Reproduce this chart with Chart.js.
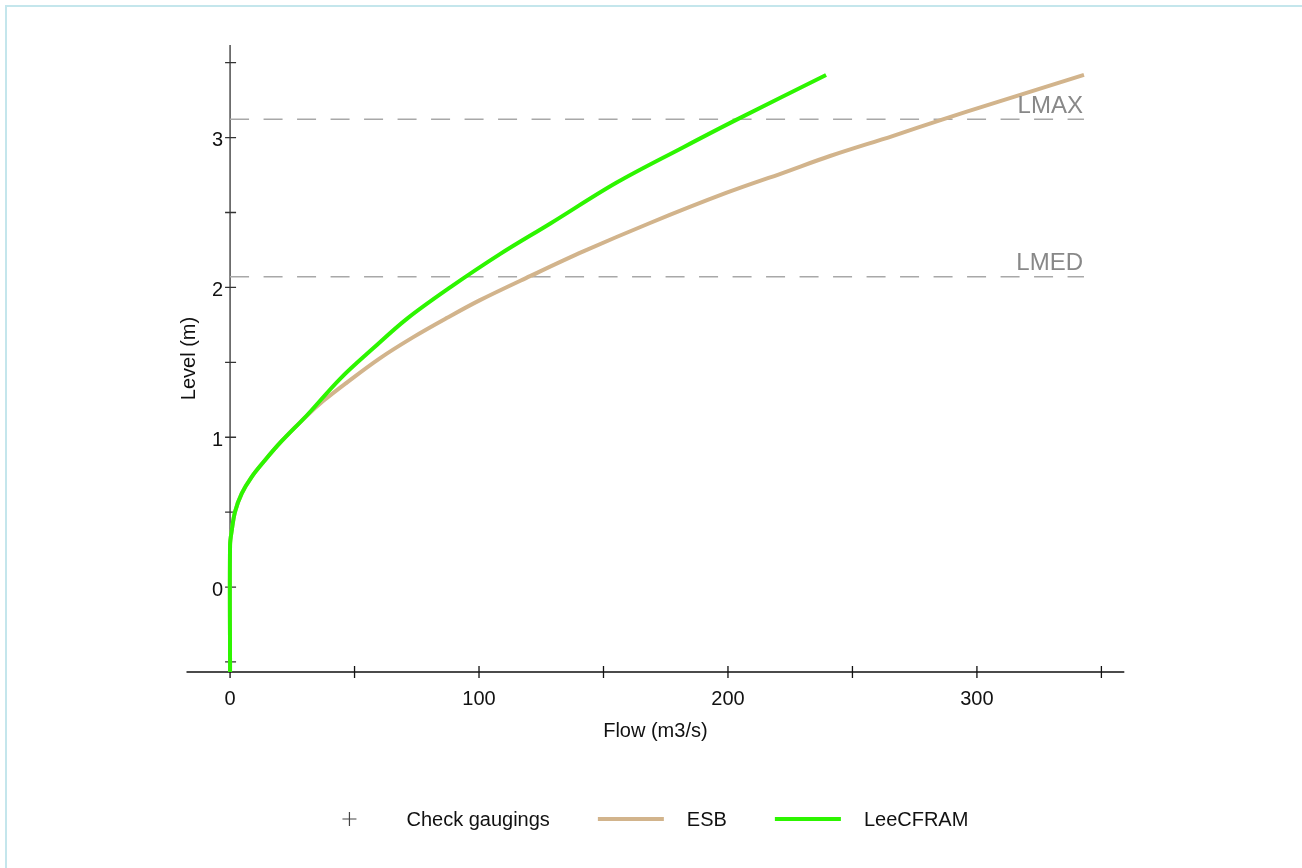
<!DOCTYPE html>
<html>
<head>
<meta charset="utf-8">
<title>Rating curves</title>
<script src="https://cdn.jsdelivr.net/npm/chart.js@4.4.1/dist/chart.umd.min.js"></script>
<style>
    html, body { margin: 0; padding: 0; background: #fff; overflow: hidden; }
    #frame { position: absolute; left: 5px; top: 5px; width: 1400px; height: 1000px; border: 2px solid #c4e6ec; pointer-events: none; }
    #ratingChart { position: absolute; left: 0; top: 0; }
</style>
</head>
<body>
<div id="frame"></div>
<canvas id="ratingChart" width="1302" height="868"></canvas>
<script>
// 坐标轴刻度
const xTicks = [0, 50, 100, 150, 200, 250, 300, 350];
const xTickLabels = ['0', '', '100', '', '200', '', '300', ''];
const yTicks = [-0.5, 0, 0.5, 1, 1.5, 2, 2.5, 3, 3.5];
const yTickLabels = ['', '0', '', '1', '', '2', '', '3', ''];
const xTitle = 'Flow (m3/s)';
const yTitle = 'Level (m)';

// ESB 水位流量关系
const esbFlow = [0, 0, 0.7, 2, 4.7, 8.7, 14.1, 20.5, 30, 37.5, 46.9, 60, 73.6, 87, 100.4, 120.5, 141.9, 168.7, 199.5, 222.2, 241, 266.4, 286, 306.5, 343];
const esbLevel = [-0.567, 0.28, 0.38, 0.503, 0.625, 0.736, 0.848, 0.97, 1.13, 1.243, 1.365, 1.525, 1.668, 1.795, 1.915, 2.075, 2.24, 2.43, 2.632, 2.765, 2.877, 3.012, 3.12, 3.228, 3.418];

// LeeCFRAM 水位流量关系
const cframFlow = [0, 0, 0.7, 2, 4.7, 8.7, 14.1, 20.5, 30.8, 44.2, 57.6, 71, 88.4, 108.4, 128.5, 155.3, 182.1, 203.5, 239.4];
const cframLevel = [-0.567, 0.28, 0.38, 0.503, 0.625, 0.736, 0.848, 0.97, 1.145, 1.39, 1.595, 1.79, 2.0, 2.222, 2.425, 2.7, 2.936, 3.12, 3.418];

// 实测流量（无数据）
const gaugingFlow = [];
const gaugingLevel = [];

// 特征水位
const refNames = ['LMAX', 'LMED'];
const refLevels = [3.122, 2.071];
const refFlowRange = [0, 343];

const FONT = "'Liberation Sans', Arial, Helvetica, sans-serif";

function toPoints(xs, ys) {
    return xs.map((x, i) => ({ x: x, y: ys[i] }));
}

// 坐标轴：刻度线穿过轴线，y 轴位于流量 0 处
const axesPlugin = {
    id: 'axesPlugin',
    beforeDatasetsDraw(chart) {
        const ctx = chart.ctx;
        const area = chart.chartArea;
        const xs = chart.scales.x;
        const ys = chart.scales.y;
        const x0 = xs.getPixelForValue(0);

        ctx.save();
        ctx.lineWidth = 1.3;
        ctx.strokeStyle = '#111';
        ctx.beginPath();
        ctx.moveTo(area.left, area.bottom);
        ctx.lineTo(area.right, area.bottom);
        xTicks.forEach(v => {
            const px = xs.getPixelForValue(v);
            ctx.moveTo(px, area.bottom - 6);
            ctx.lineTo(px, area.bottom + 6);
        });
        ctx.stroke();

        ctx.strokeStyle = '#333';
        ctx.beginPath();
        ctx.moveTo(x0, area.top);
        ctx.lineTo(x0, area.bottom);
        yTicks.forEach(v => {
            const py = ys.getPixelForValue(v);
            ctx.moveTo(x0 - 5, py);
            ctx.lineTo(x0 + 6, py);
        });
        ctx.stroke();

        ctx.fillStyle = '#111';
        ctx.font = '20px ' + FONT;
        ctx.textAlign = 'center';
        ctx.textBaseline = 'middle';
        xTicks.forEach((v, i) => {
            ctx.fillText(xTickLabels[i], xs.getPixelForValue(v), area.bottom + 27);
        });
        ctx.fillText(xTitle, (area.left + area.right) / 2, area.bottom + 59);

        ctx.textAlign = 'right';
        yTicks.forEach((v, i) => {
            ctx.fillText(yTickLabels[i], x0 - 7, ys.getPixelForValue(v) + 3);
        });

        ctx.translate(area.left + 3, (area.top + area.bottom) / 2);
        ctx.rotate(-Math.PI / 2);
        ctx.textAlign = 'center';
        ctx.fillText(yTitle, 0, 0);
        ctx.restore();
    }
};

// 特征水位标签
const refLabelPlugin = {
    id: 'refLabelPlugin',
    afterDatasetsDraw(chart) {
        const ctx = chart.ctx;
        const xs = chart.scales.x;
        const ys = chart.scales.y;
        ctx.save();
        ctx.fillStyle = '#888';
        ctx.font = '24px ' + FONT;
        ctx.textAlign = 'right';
        ctx.textBaseline = 'alphabetic';
        refNames.forEach((name, i) => {
            ctx.fillText(name, xs.getPixelForValue(refFlowRange[1]) - 1, ys.getPixelForValue(refLevels[i]) - 6.5);
        });
        ctx.restore();
    }
};

// 图例
const legendPlugin = {
    id: 'legendPlugin',
    afterDraw(chart) {
        const ctx = chart.ctx;
        const area = chart.chartArea;
        const items = chart.data.datasets.filter(d => d.inLegend);
        const y = 820;
        ctx.save();
        ctx.font = '20px ' + FONT;
        ctx.textBaseline = 'middle';
        ctx.textAlign = 'left';

        const widths = items.map(d => {
            const symW = d.legendType === 'cross' ? 14 : 66;
            const gap = d.legendType === 'cross' ? 50 : 23;
            return symW + gap + ctx.measureText(d.label).width;
        });
        const total = widths.reduce((a, b) => a + b, 0) + 48 * (items.length - 1);
        let x = (area.left + area.right) / 2 - total / 2;

        items.forEach((d, i) => {
            if (d.legendType === 'cross') {
                ctx.strokeStyle = '#444';
                ctx.lineWidth = 1.2;
                ctx.beginPath();
                ctx.moveTo(x, y - 1);
                ctx.lineTo(x + 14, y - 1);
                ctx.moveTo(x + 7, y - 8);
                ctx.lineTo(x + 7, y + 6);
                ctx.stroke();
                ctx.fillStyle = '#111';
                ctx.fillText(d.label, x + 64, y);
            } else {
                ctx.strokeStyle = d.borderColor;
                ctx.lineWidth = 4;
                ctx.beginPath();
                ctx.moveTo(x, y - 1);
                ctx.lineTo(x + 66, y - 1);
                ctx.stroke();
                ctx.fillStyle = '#111';
                ctx.fillText(d.label, x + 89, y);
            }
            x += widths[i] + 48;
        });
        ctx.restore();
    }
};

function refDataset(i) {
    return {
        label: refNames[i],
        data: toPoints(refFlowRange, [refLevels[i], refLevels[i]]),
        showLine: true,
        borderColor: '#a8a8a8',
        borderWidth: 1.5,
        borderDash: [19, 14.5],
        pointRadius: 0,
        fill: false,
        order: 3
    };
}

const ctx = document.getElementById('ratingChart').getContext('2d');
const chart = new Chart(ctx, {
    type: 'scatter',
    data: {
        datasets: [
            refDataset(0),
            refDataset(1),
            {
                label: 'Check gaugings',
                data: toPoints(gaugingFlow, gaugingLevel),
                pointStyle: 'cross',
                borderColor: '#444',
                pointRadius: 7,
                inLegend: true,
                legendType: 'cross',
                order: 0
            },
            {
                label: 'ESB',
                data: toPoints(esbFlow, esbLevel),
                showLine: true,
                borderColor: '#d2b48c',
                borderWidth: 4,
                pointRadius: 0,
                tension: 0.35,
                inLegend: true,
                legendType: 'line',
                order: 2
            },
            {
                label: 'LeeCFRAM',
                data: toPoints(cframFlow, cframLevel),
                showLine: true,
                borderColor: '#2df500',
                borderWidth: 4,
                pointRadius: 0,
                tension: 0.35,
                inLegend: true,
                legendType: 'line',
                order: 1
            }
        ]
    },
    options: {
        responsive: false,
        animation: false,
        layout: {
            padding: { left: 186.5, top: 45, right: 177.7, bottom: 196 }
        },
        scales: {
            x: { type: 'linear', min: -17.5, max: 359.2, display: false },
            y: { type: 'linear', min: -0.567, max: 3.618, display: false }
        },
        plugins: {
            legend: { display: false },
            tooltip: { enabled: false }
        }
    },
    plugins: [axesPlugin, refLabelPlugin, legendPlugin]
});
</script>
</body>
</html>
